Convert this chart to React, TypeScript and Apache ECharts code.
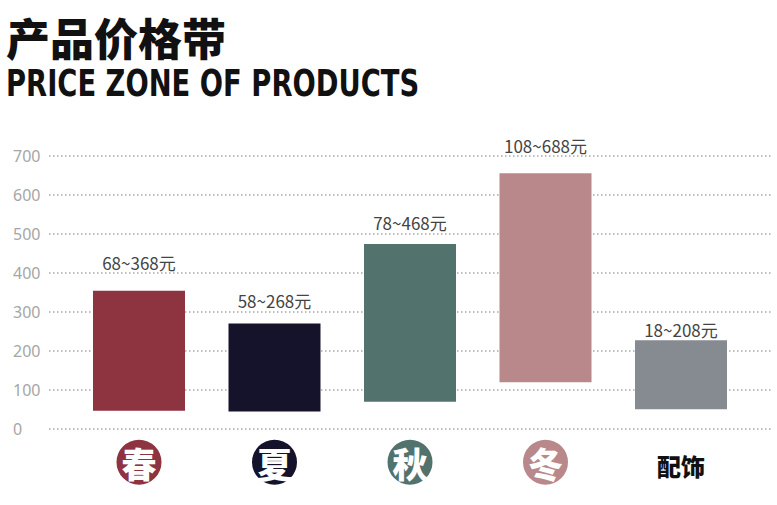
import { useEffect, useRef } from 'react'
import * as echarts from 'echarts'

const categories = ['春', '夏', '秋', '冬', '配饰']
const lows = [46, 44, 69, 119, 50]
const highs = [354, 270, 474, 656, 227]
const rangeLabels = ['68~368元', '58~268元', '78~468元', '108~688元', '18~208元']
const labelGaps = [20, 15, 13, 19, 2]
const yTicks = [0, 100, 200, 300, 400, 500, 600, 700]

const COLORS = ['#8e3340', '#15132b', '#52726e', '#b8888b', '#868a91']
const RICH_KEYS = ['c0', 'c1', 'c2', 'c3', 'plain']

export default function App() {
  const ref = useRef<HTMLDivElement>(null)

  useEffect(() => {
    if (!ref.current) return
    const chart = echarts.init(ref.current, undefined, { renderer: 'svg' })

    const rich: Record<string, any> = {}
    COLORS.slice(0, 4).forEach((c, i) => {
      rich['c' + i] = {
        backgroundColor: c,
        width: 45,
        height: 45,
        lineHeight: 45,
        borderRadius: 22.5,
        align: 'center',
        color: '#fff',
        fontSize: 35,
        fontWeight: 900,
        fontFamily: 'Noto Sans CJK SC',
      }
    })
    rich.plain = {
      height: 45,
      lineHeight: 52,
      align: 'center',
      color: '#111',
      fontSize: 24,
      fontWeight: 900,
      fontFamily: 'Noto Sans CJK SC',
    }

    const top = 156
    const bottom = 505 - 428.7

    chart.setOption({
      animation: false,
      backgroundColor: '#fff',
      graphic: [
        {
          type: 'text',
          x: 6,
          y: 37,
          style: {
            text: '产品价格带',
            x: 0,
            y: 0,
            fill: '#111',
            font: '900 44px "Noto Sans CJK SC"',
            textVerticalAlign: 'middle',
          },
        },
        {
          type: 'text',
          x: 6,
          y: 83.5,
          scaleX: 0.75,
          style: {
            text: 'PRICE ZONE OF PRODUCTS',
            x: 0,
            y: 0,
            fill: '#111',
            font: 'bold 36.5px "DejaVu Sans"',
            textVerticalAlign: 'middle',
          },
        },
      ],
      grid: [
        { left: 49, right: 6, top, bottom },
        { left: 71.25, right: 28.25, top, bottom },
      ],
      xAxis: [
        { type: 'value', gridIndex: 0, show: false, min: 0, max: 1 },
        {
          type: 'category',
          gridIndex: 1,
          data: categories,
          axisLine: { show: false },
          axisTick: { show: false },
          axisLabel: {
            margin: 11,
            interval: 0,
            formatter: (v: string) => {
              const i = categories.indexOf(v)
              return '{' + RICH_KEYS[i] + '|' + v + '}'
            },
            rich,
          },
        },
      ],
      yAxis: [
        {
          type: 'value',
          gridIndex: 0,
          min: yTicks[0],
          max: yTicks[yTicks.length - 1],
          interval: 100,
          axisLine: { show: false },
          axisTick: { show: false },
          axisLabel: {
            align: 'left',
            margin: 36,
            color: '#a6a6a6',
            fontSize: 16,
            fontFamily: 'Noto Sans',
          },
          splitLine: {
            lineStyle: { color: '#a8a8a8', width: 1.5, type: [1.5, 2.5] },
          },
        },
        {
          type: 'value',
          gridIndex: 1,
          min: yTicks[0],
          max: yTicks[yTicks.length - 1],
          interval: 100,
          show: false,
          splitLine: { show: false },
        },
      ],
      series: [
        {
          type: 'bar',
          xAxisIndex: 1,
          yAxisIndex: 1,
          stack: 'range',
          barWidth: 92,
          itemStyle: { color: 'transparent' },
          silent: true,
          data: lows,
        },
        {
          type: 'bar',
          xAxisIndex: 1,
          yAxisIndex: 1,
          stack: 'range',
          barWidth: 92,
          data: highs.map((h, i) => ({
            value: h - lows[i],
            itemStyle: { color: COLORS[i] },
            label: {
              show: true,
              position: 'top',
              distance: labelGaps[i],
              formatter: rangeLabels[i],
              color: '#444',
              fontSize: 17,
              lineHeight: 17,
              fontFamily: 'Noto Sans CJK SC',
            },
          })),
        },
      ],
    })

    return () => chart.dispose()
  }, [])

  return (
    <div
      ref={ref}
      style={{ position: 'fixed', left: 0, top: 0, width: 777, height: 505 }}
    />
  )
}
